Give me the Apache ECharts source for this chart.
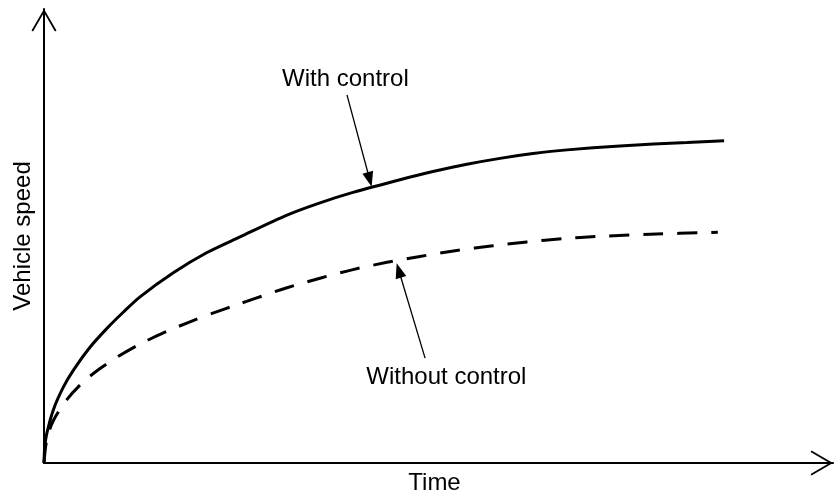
<!DOCTYPE html>
<html><head><meta charset="utf-8">
<script src="https://cdn.jsdelivr.net/npm/echarts@6/dist/echarts.min.js"></script>
<style>html,body{margin:0;padding:0;background:#fff}#c{width:836px;height:494px}</style>
</head><body><div id="c"></div>
<script>
// Data (arbitrary units: time 0-100, speed 0-100)
const timeWith = [0, 0.09, 0.34, 1.18, 2.45, 3.71, 5.83, 7.95, 10.04, 12.17, 16.39, 20.6, 24.84, 30.8, 34.98, 39.16, 45.12, 49.3, 53.6, 57.8, 61.98, 66.29, 73.0, 81.5, 86.2];
const speedWith = [0, 3.4, 6.4, 11.7, 16.7, 20.4, 25.5, 29.6, 33.2, 36.6, 41.9, 46.3, 49.8, 54.6, 57.3, 59.6, 62.4, 64.2, 65.8, 67.1, 68.15, 68.97, 69.84, 70.6, 71.0];
const timeWithout = [0, 0.34, 1.14, 2.92, 4.94, 7.1, 9.25, 12.17, 15.59, 18.5, 21.4, 24.84, 26.5, 30.8, 34.98, 39.16, 43.47, 47.66, 52.3, 56.9, 61.2, 65.8, 70.2, 76.8, 85.4];
const speedWithout = [0, 5.0, 9.2, 14.0, 17.8, 20.8, 23.3, 26.2, 29.0, 31.1, 33.0, 35.1, 36.1, 38.6, 40.7, 42.6, 44.2, 45.5, 46.8, 47.85, 48.7, 49.4, 49.9, 50.4, 50.8];

const seriesNames = ['With control', 'Without control'];
const xAxisName = 'Time';
const yAxisName = 'Vehicle speed';
// annotation anchors (data units): label position, arrow start, arrow end
const withLabel = [38.2, 84.4];
const withArrow = [[38.4, 81.1], [41.28, 62.44]];
const withoutLabel = [51.0, 18.9];
const withoutArrow = [[48.3, 23.1], [44.97, 42.4]];

const zip = (a, b) => a.map((v, i) => [v, b[i]]);
const chevron = 'path://M12.5,0 L25,21.5 L23.4,22.4 L12.5,3.6 L1.6,22.4 L0,21.5 Z';
const font = 'Liberation Sans, Arial, Helvetica, sans-serif';

const axisCommon = {
  type: 'value', min: 0, max: 100,
  axisLine: { show: true, onZero: false, lineStyle: { color: '#000', width: 2 },
    symbol: ['none', chevron], symbolSize: [25, 22.4], symbolOffset: [0, -11.2] },
  axisTick: { show: false }, axisLabel: { show: false }, splitLine: { show: false },
  nameLocation: 'middle',
  nameTextStyle: { color: '#000', fontSize: 24, fontFamily: font }
};

function annot(label, arrow) {
  return {
    markLine: {
      silent: true, animation: false,
      symbol: ['none', 'triangle'], symbolSize: [11, 15],
      lineStyle: { color: '#000', width: 1.3, type: 'solid' },
      label: { show: false },
      data: [[{ coord: arrow[0] }, { coord: arrow[1] }]]
    },
    markPoint: {
      silent: true, animation: false,
      symbol: 'circle', symbolSize: 1,
      itemStyle: { color: 'rgba(0,0,0,0)' },
      label: { show: true, position: 'inside', color: '#000', fontSize: 24, fontFamily: font,
        formatter: p => p.name },
      data: [{ name: label.name, coord: label.coord }]
    }
  };
}

const chart = echarts.init(document.getElementById('c'), null, { renderer: 'canvas' });
chart.setOption({
  backgroundColor: '#fff',
  animation: false,
  grid: { left: 44, right: 3, top: 9, bottom: 31, containLabel: false, outerBoundsMode: 'none' },
  xAxis: Object.assign({}, axisCommon, { name: xAxisName, nameGap: 8,
    nameTextStyle: Object.assign({}, axisCommon.nameTextStyle, { padding: [0, 8, 0, 0] }) }),
  yAxis: Object.assign({}, axisCommon, { name: yAxisName, nameGap: 9, nameRotate: 90 }),
  series: [
    Object.assign({
      name: seriesNames[0], type: 'line', data: zip(timeWith, speedWith),
      showSymbol: false, smooth: 0.3,
      lineStyle: { color: '#000', width: 3 }
    }, annot({ name: seriesNames[0], coord: withLabel }, withArrow)),
    Object.assign({
      name: seriesNames[1], type: 'line', data: zip(timeWithout, speedWithout),
      showSymbol: false, smooth: 0.3,
      lineStyle: { color: '#000', width: 3, type: [20, 14] }
    }, annot({ name: seriesNames[1], coord: withoutLabel }, withoutArrow))
  ]
});
</script></body></html>
